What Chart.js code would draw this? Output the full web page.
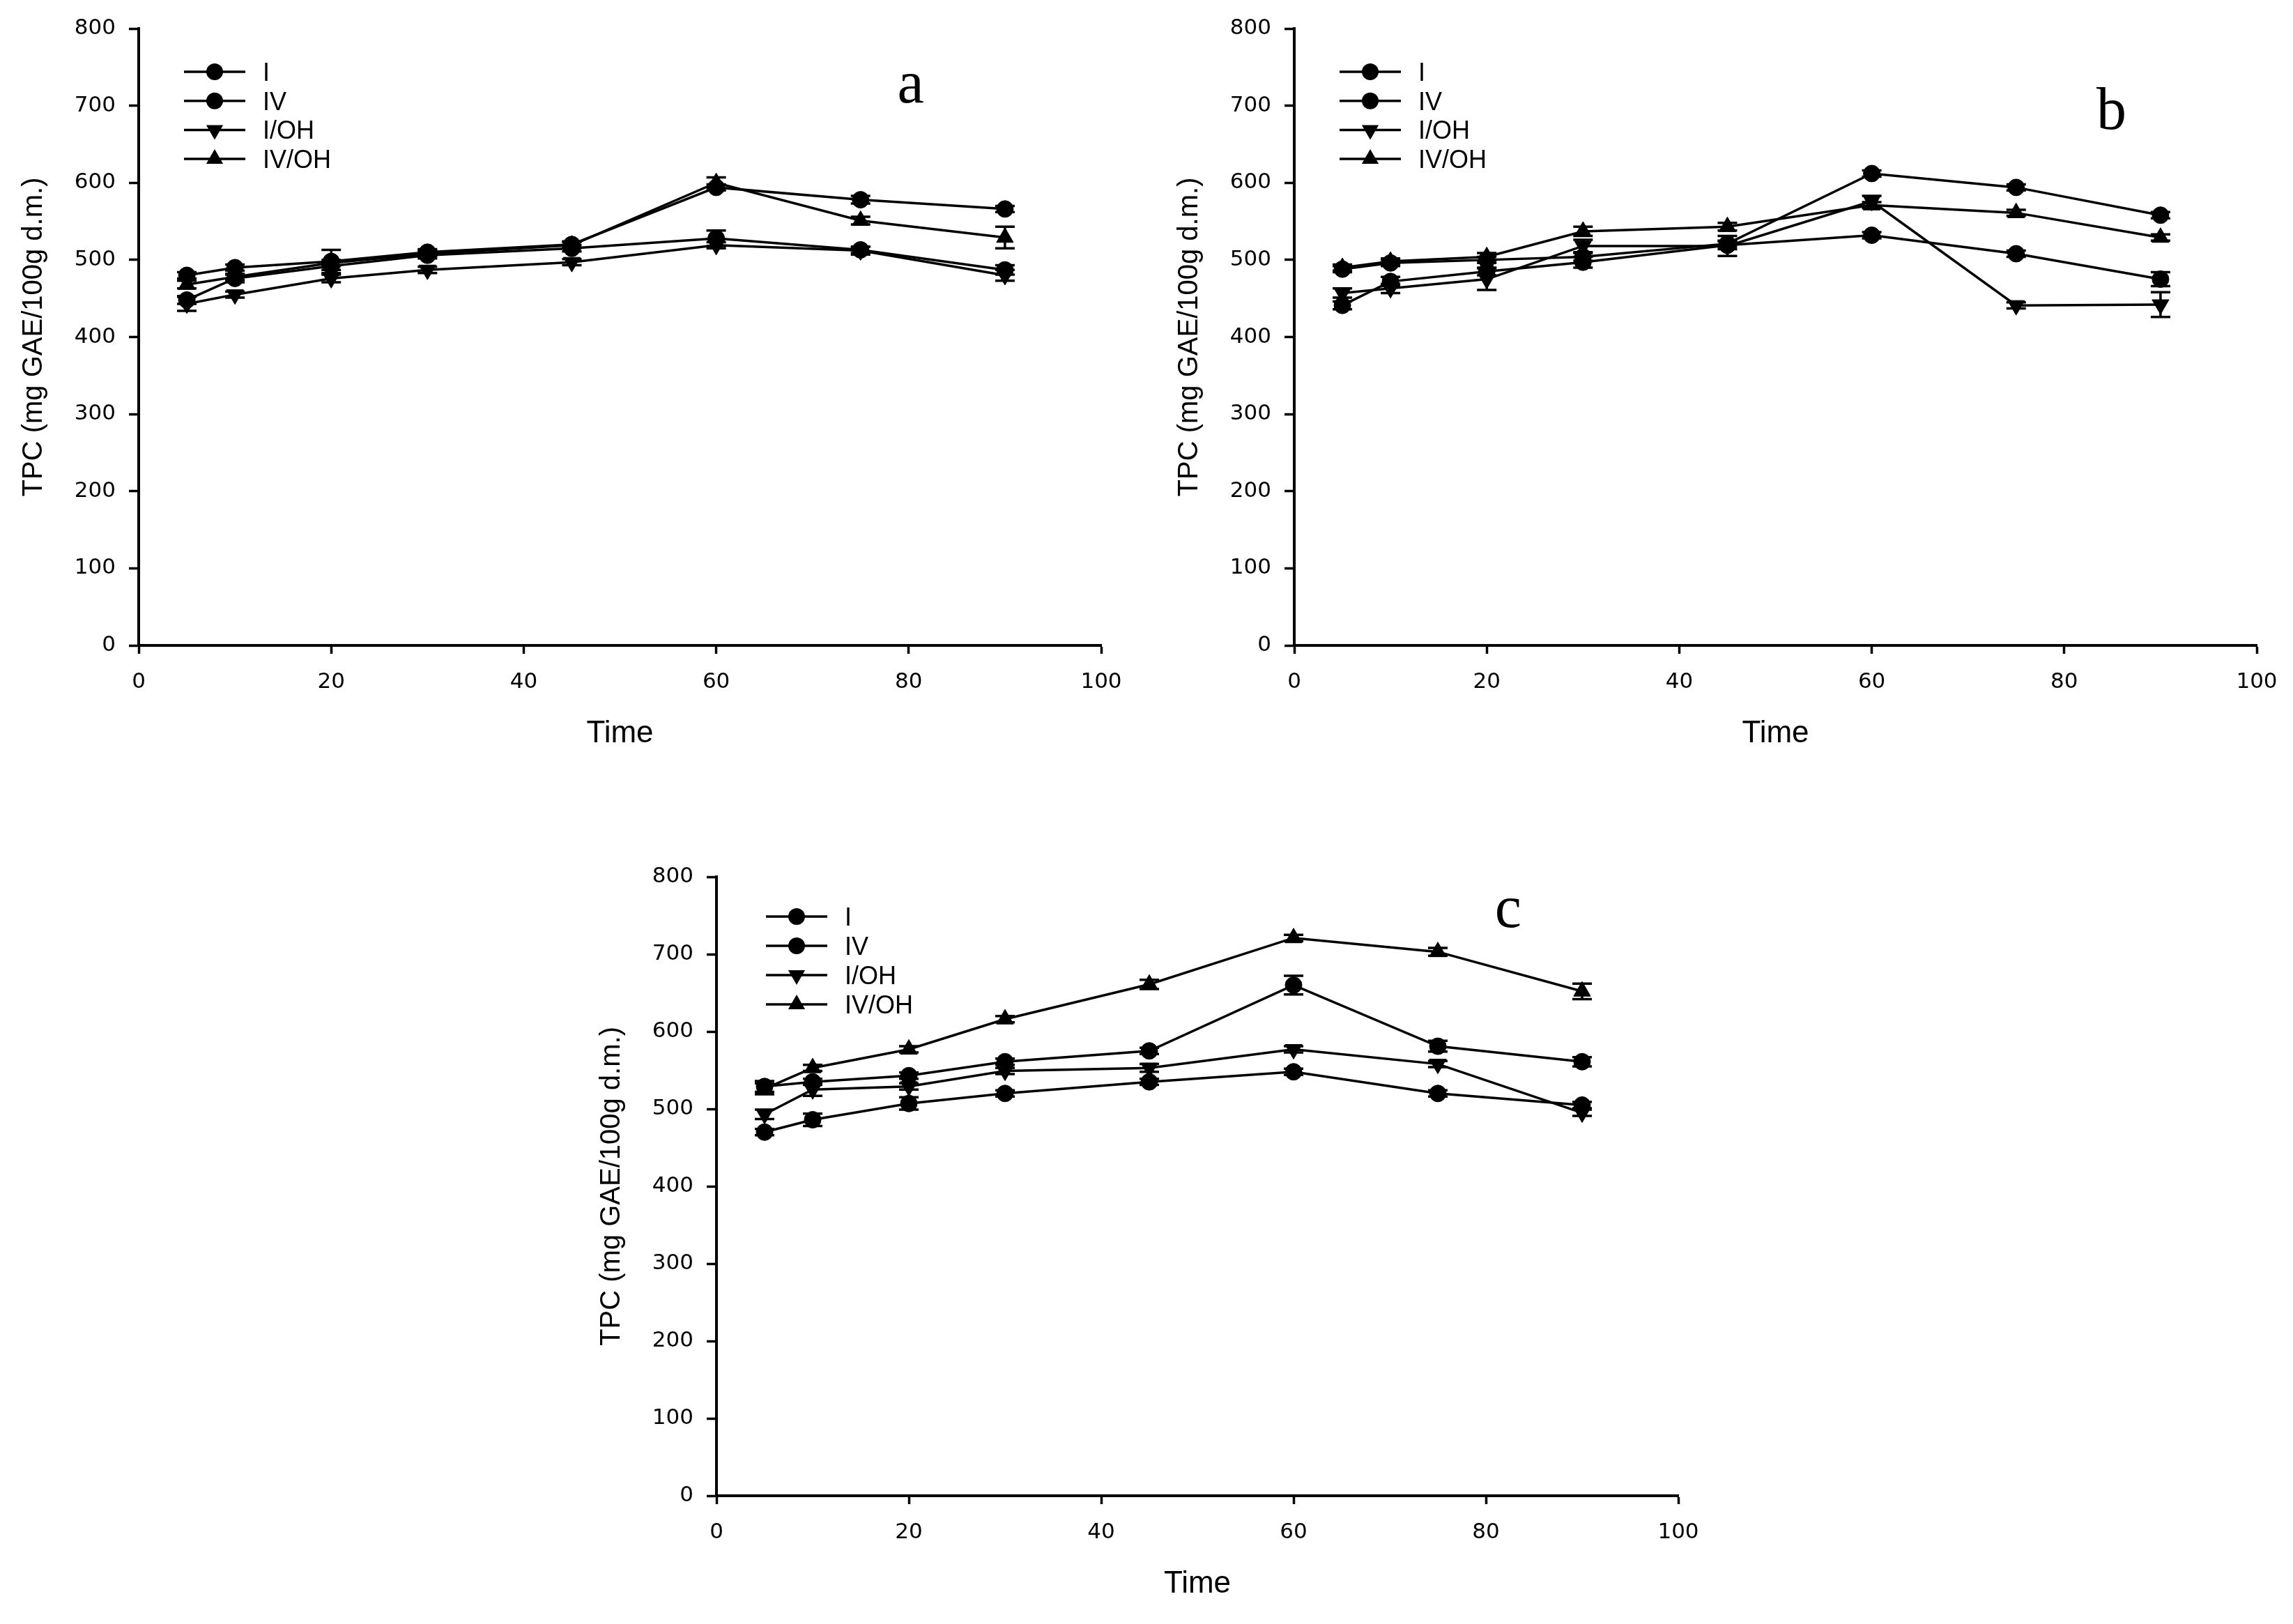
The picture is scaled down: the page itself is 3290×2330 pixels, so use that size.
<!DOCTYPE html>
<html>
<head>
<meta charset="utf-8">
<title>TPC over time</title>
<script src="https://cdn.jsdelivr.net/npm/chart.js@4.4.1/dist/chart.umd.min.js"></script>
<style>
  html, body { margin: 0; padding: 0; background: #fff; }
  body { width: 3290px; height: 2330px; position: relative; overflow: hidden; }
  canvas { position: absolute; }
</style>
</head>
<body>
<canvas id="chartA" width="1640" height="1100" style="left:0px;top:0px"></canvas>
<canvas id="chartB" width="1632" height="1100" style="left:1658px;top:0px"></canvas>
<canvas id="chartC" width="1639" height="1103" style="left:829px;top:1217px"></canvas>
<script>
(() => {
    const timePoints = [5, 10, 20, 30, 45, 60, 75, 90];
    const xTickValues = [0, 20, 40, 60, 80, 100];
    const yTickValues = [0, 100, 200, 300, 400, 500, 600, 700, 800];
    const seriesNames = ['I', 'IV', 'I/OH', 'IV/OH'];

    // panel a
    const aI = [448, 476, 492, 506, 515, 528, 513, 487];
    const aIV = [480, 490, 498, 510, 520, 594, 578, 566];
    const aIOH = [443, 455, 476, 487, 497, 519, 512, 480];
    const aIVOH = [468, 478, 496, 508, 519, 600, 551, 529];
    const aIErr = [5, 5, 5, 4, 4, 10, 4, 6];
    const aIVErr = [4, 4, 15, 4, 4, 4, 5, 4];
    const aIOHErr = [9, 4, 5, 4, 4, 4, 5, 7];
    const aIVOHErr = [5, 4, 4, 4, 4, 7, 5, 14];

    // panel b
    const bI = [441, 472, 485, 497, 519, 532, 508, 475];
    const bIV = [488, 496, 500, 504, 521, 612, 594, 558];
    const bIOH = [457, 463, 475, 518, 518, 576, 441, 442];
    const bIVOH = [490, 498, 504, 537, 543, 571, 561, 529];
    const bIErr = [5, 6, 5, 7, 5, 4, 4, 9];
    const bIVErr = [4, 4, 4, 5, 4, 4, 4, 4];
    const bIOHErr = [6, 6, 14, 8, 13, 7, 4, 16];
    const bIVOHErr = [4, 4, 5, 6, 5, 4, 4, 4];

    // panel c
    const cI = [470, 486, 507, 520, 535, 548, 520, 505];
    const cIV = [529, 535, 543, 561, 575, 660, 581, 561];
    const cIOH = [493, 525, 529, 549, 553, 577, 558, 495];
    const cIVOH = [526, 553, 577, 616, 661, 721, 703, 652];
    const cIErr = [4, 8, 8, 4, 4, 4, 4, 4];
    const cIVErr = [7, 4, 4, 4, 4, 12, 7, 6];
    const cIOHErr = [6, 8, 4, 4, 5, 4, 4, 4];
    const cIVOHErr = [7, 4, 4, 4, 6, 4, 5, 10];

    const markerStyles = [
        { pointStyle: 'circle', pointRadius: 12, pointRotation: 0 },
        { pointStyle: 'circle', pointRadius: 12, pointRotation: 0 },
        { pointStyle: 'triangle', pointRadius: 14, pointRotation: 180 },
        { pointStyle: 'triangle', pointRadius: 14, pointRotation: 0 }
    ];

    function drawMarker(ctx, style, rotation, radius, x, y) {
        ctx.beginPath();
        if (style === 'circle') {
            ctx.arc(x, y, radius, 0, Math.PI * 2);
        } else {
            let rad = rotation * Math.PI / 180;
            ctx.moveTo(x + Math.sin(rad) * radius, y - Math.cos(rad) * radius);
            rad += Math.PI * 2 / 3;
            ctx.lineTo(x + Math.sin(rad) * radius, y - Math.cos(rad) * radius);
            rad += Math.PI * 2 / 3;
            ctx.lineTo(x + Math.sin(rad) * radius, y - Math.cos(rad) * radius);
            ctx.closePath();
        }
        ctx.fill();
    }

    const errorBars = {
        id: 'errorBars',
        afterDatasetsDraw(chart) {
            const { ctx } = chart;
            const yScale = chart.scales.y;
            ctx.save();
            ctx.strokeStyle = '#000';
            ctx.lineWidth = 3.5;
            chart.data.datasets.forEach((ds, di) => {
                const meta = chart.getDatasetMeta(di);
                meta.data.forEach((pt, i) => {
                    const e = ds.errors ? ds.errors[i] : 0;
                    if (!e) return;
                    const v = ds.data[i].y;
                    const top = yScale.getPixelForValue(v + e);
                    const bot = yScale.getPixelForValue(v - e);
                    ctx.beginPath();
                    ctx.moveTo(pt.x, top);
                    ctx.lineTo(pt.x, bot);
                    ctx.moveTo(pt.x - 14, top);
                    ctx.lineTo(pt.x + 14, top);
                    ctx.moveTo(pt.x - 14, bot);
                    ctx.lineTo(pt.x + 14, bot);
                    ctx.stroke();
                });
            });
            ctx.restore();
        }
    };

    // inset legend and panel letter
    const decor = {
        id: 'decor',
        afterDraw(chart, args, opts) {
            const { ctx, chartArea: area, scales } = chart;
            ctx.save();
            ctx.fillStyle = '#000';
            ctx.strokeStyle = '#000';

            ctx.font = '86px "Liberation Serif"';
            ctx.textAlign = 'center';
            ctx.textBaseline = 'alphabetic';
            ctx.fillText(opts.letter,
                scales.x.getPixelForValue(opts.letterAt[0]),
                scales.y.getPixelForValue(opts.letterAt[1]));

            ctx.font = '36px "Liberation Sans"';
            ctx.textAlign = 'left';
            chart.data.datasets.forEach((ds, i) => {
                const cy = area.top + opts.legendTop + i * opts.legendGap;
                ctx.lineWidth = 3.5;
                ctx.beginPath();
                ctx.moveTo(area.left + opts.lineFrom, cy);
                ctx.lineTo(area.left + opts.lineTo, cy);
                ctx.stroke();
                drawMarker(ctx, ds.pointStyle, ds.pointRotation, ds.pointRadius,
                    area.left + (opts.lineFrom + opts.lineTo) / 2, cy);
                ctx.fillText(ds.label, area.left + opts.textX, cy + 13);
            });
            ctx.restore();
        }
    };

    function makeDatasets(values, errors) {
        return values.map((vals, si) => ({
            label: seriesNames[si],
            data: timePoints.map((t, i) => ({ x: t, y: vals[i] })),
            errors: errors[si],
            borderColor: '#000',
            borderWidth: 3.5,
            backgroundColor: '#000',
            pointBackgroundColor: '#000',
            pointBorderColor: '#000',
            pointBorderWidth: 1,
            tension: 0,
            fill: false,
            ...markerStyles[si]
        }));
    }

    function makeChart(id, values, errors, decorOpts, rightPad) {
        const canvas = document.getElementById(id);
        return new Chart(canvas, {
            type: 'line',
            data: { datasets: makeDatasets(values, errors) },
            plugins: [errorBars, decor],
            options: {
                responsive: false,
                animation: false,
                devicePixelRatio: 1,
                events: [],
                layout: { padding: { left: 0, top: 41, right: rightPad, bottom: 0 } },
                plugins: {
                    legend: { display: false },
                    tooltip: { enabled: false },
                    decor: decorOpts
                },
                scales: {
                    x: {
                        type: 'linear',
                        min: 0,
                        max: 100,
                        afterBuildTicks: (s) => { s.ticks = xTickValues.map(v => ({ value: v })); },
                        afterFit: (s) => { s.height = 174; },
                        border: { display: true, color: '#000', width: 4 },
                        grid: { display: true, drawOnChartArea: false, drawTicks: true, tickLength: 12, tickWidth: 3.5, tickColor: '#000' },
                        ticks: { padding: 22, color: '#000', maxRotation: 0, font: { family: 'DejaVu Sans', size: 31 } },
                        title: { display: true, text: 'Time', color: '#000', font: { family: 'Liberation Sans', size: 44 }, padding: { top: 0, bottom: 21 } }
                    },
                    y: {
                        type: 'linear',
                        min: 0,
                        max: 800,
                        afterBuildTicks: (s) => { s.ticks = yTickValues.map(v => ({ value: v })); },
                        afterFit: (s) => { s.width = 199; },
                        border: { display: true, color: '#000', width: 4 },
                        grid: { display: true, drawOnChartArea: false, drawTicks: true, tickLength: 14, tickWidth: 3.5, tickColor: '#000' },
                        ticks: { padding: 19, color: '#000', font: { family: 'DejaVu Sans', size: 31 } },
                        title: { display: true, text: 'TPC (mg GAE/100g d.m.)', color: '#000', font: { family: 'Liberation Sans', size: 40 }, padding: { top: 25, bottom: 0 } }
                    }
                }
            }
        });
    }

    const legendAB = { legendTop: 62, legendGap: 41.7, lineFrom: 65, lineTo: 153, textX: 178 };
    const legendC = { legendTop: 57, legendGap: 42, lineFrom: 71, lineTo: 159, textX: 184 };

    makeChart('chartA', [aI, aIV, aIOH, aIVOH], [aIErr, aIVErr, aIOHErr, aIVOHErr],
        { ...legendAB, letter: 'a', letterAt: [80.2, 704] }, 60);
    makeChart('chartB', [bI, bIV, bIOH, bIVOH], [bIErr, bIVErr, bIOHErr, bIVOHErr],
        { ...legendAB, letter: 'b', letterAt: [84.9, 670] }, 52);
    makeChart('chartC', [cI, cIV, cIOH, cIVOH], [cIErr, cIVErr, cIOHErr, cIVOHErr],
        { ...legendC, letter: 'c', letterAt: [82.3, 735] }, 60);
})();
</script>
</body>
</html>
